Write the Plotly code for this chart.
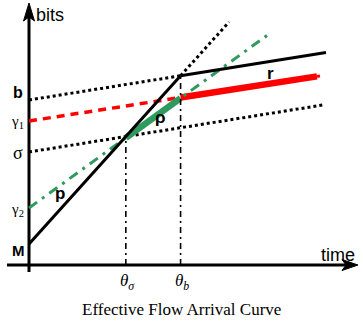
import numpy as np
import plotly.graph_objects as go

# Curve parameters (time on x, bits on y)
M = 21          # maximum packet size
p_rate = 1.11   # peak rate
b = 165         # bucket depth
r_rate = 0.16   # token rate
sigma = 113     # shaped burst
gamma1 = 144
rho1 = 0.155
gamma2 = 57
rho2 = 0.725

theta_b = (b - M) / (p_rate - r_rate)
theta_s = (sigma - M) / (p_rate - r_rate)

x_end_r = 297
x_end_sigma = 294
x_end_peak = 200
x_end_red = 288
x_end_green = 241

def seg(x0, x1, f):
    xs = np.array([x0, x1])
    return xs, f(xs)

peak = lambda x: M + p_rate * x
rline = lambda x: b + r_rate * x
sline = lambda x: sigma + r_rate * x
red = lambda x: gamma1 + rho1 * x
green = lambda x: gamma2 + rho2 * x

fig = go.Figure()

def add(xs, ys, color, width, dash="solid"):
    fig.add_trace(go.Scatter(x=xs, y=ys, mode="lines",
                             line=dict(color=color, width=width, dash=dash),
                             hoverinfo="skip", showlegend=False))

GREEN = "#2e9a5e"
# axes
add([0, 0], [-7, 250], "black", 3)
add([-22, 318], [0, 0], "black", 3)
# dotted token-bucket lines
add(*seg(0, theta_b, rline), "black", 3, "dot")
add(*seg(0, x_end_sigma, sline), "black", 3, "dot")
add(*seg(theta_b, x_end_peak, peak), "black", 3, "dot")
# red curve
add(*seg(0, theta_b, red), "red", 3.5, "8px,6px")
add(*seg(theta_b, x_end_red, red), "red", 6.5)
add(*seg(x_end_red, x_end_red + 5, red), "red", 3, "dot")
# green curve
add(*seg(0, x_end_green, green), GREEN, 3, "10px,6px,3px,6px")
add(*seg(theta_s, theta_b, green), GREEN, 6.5)
# black arrival curve
add(*seg(0, theta_b, peak), "black", 3)
add(*seg(theta_b, x_end_r, rline), "black", 3.2)
# vertical guides
add([theta_s, theta_s], [0, sline(theta_s)], "black", 1.6, "6px,4px,2px,4px")
add([theta_b, theta_b], [0, peak(theta_b)], "black", 1.6, "6px,4px,2px,4px")

# arrowheads
fig.add_shape(type="path", xref="x", yref="y", path="M 0 262 L -5.5 244 L 0 248 L 5.5 244 Z",
              fillcolor="black", line=dict(color="black", width=1))
fig.add_shape(type="path", xref="x", yref="y", path="M 329 0 L 313 5.5 L 317 0 L 313 -5.5 Z",
              fillcolor="black", line=dict(color="black", width=1))

def label(x, y, text, size=15, family="Liberation Sans", bold=False, color="black", xanchor="center"):
    if bold:
        text = "<b>" + text + "</b>"
    fig.add_annotation(x=x, y=y, text=text, showarrow=False, xanchor=xanchor, yanchor="middle",
                       font=dict(size=size, family=family, color=color))

label(5, 250, "bits", size=18, family="Liberation Sans Narrow, Liberation Sans", xanchor="left")
label(290, 10, "time", size=18, family="Liberation Sans Narrow, Liberation Sans", xanchor="left")
label(-11, 173, "b", bold=True, size=16)
label(-12, 143, "γ<sub>1</sub>", size=15, family="Liberation Serif")
label(-11, 112, "σ", size=18, family="Liberation Serif")
label(-12, 55, "γ<sub>2</sub>", size=15, family="Liberation Serif")
label(-11, 15, "M", bold=True, size=15)
label(31, 72, "p", bold=True, size=17)
label(131, 148, "ρ", bold=True, size=17)
label(241, 192, "r", bold=True, size=17)
label(theta_s + 2, -17, "<i>θ</i><sub><i>σ</i></sub>", size=17, family="Liberation Serif")
label(theta_b + 1, -17, "<i>θ</i><sub><i>b</i></sub>", size=17, family="Liberation Serif")
label(152, -44, "Effective Flow Arrival Curve", size=17, family="Liberation Serif")

fig.update_layout(
    width=363, height=323,
    margin=dict(l=0, r=0, t=0, b=0),
    paper_bgcolor="white", plot_bgcolor="white",
    xaxis=dict(range=[-29, 334], visible=False, fixedrange=True),
    yaxis=dict(range=[-58, 265], visible=False, fixedrange=True),
)

fig.write_html("out.html")
